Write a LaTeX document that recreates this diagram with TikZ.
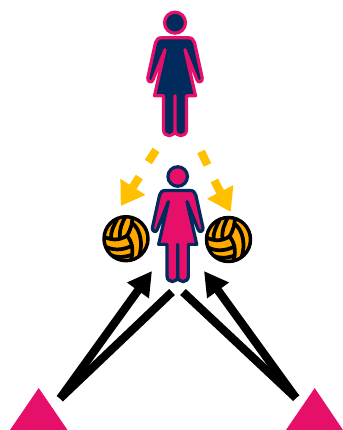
\documentclass[tikz,border=0pt]{standalone}
\usepackage{xcolor}
\usepackage{tikz}
\usetikzlibrary{calc,positioning,arrows.meta}
\definecolor{netpink}{HTML}{E6106B}
\definecolor{netnavy}{HTML}{002B5C}
\definecolor{netyellow}{HTML}{FFC000}
\definecolor{netorange}{HTML}{FFA800}
\tikzset{
  passline/.style={draw=black, line width=6.2pt},
  passarrow/.style={passline, -{Triangle[length=18pt, width=19pt]}},
  movedash/.style={draw=netyellow, line width=6.2pt},
  movearrow/.style={movedash, -{Triangle[length=17pt, width=21pt]}},
  cone/.style={fill=netpink},
  ballseam/.style={draw=black, line width=2.8pt, line cap=round},
  person/.pic={
    \filldraw (0,0) circle (10.5);
    \filldraw[line join=round] (-13,15) -- (13,15)
      .. controls (17,15) and (18.5,17) .. (19.5,20) -- (27.2,55)
      .. controls (28,59) and (23,61) .. (22,57)
      -- (10,27) -- (20.5,73) -- (11.5,73) -- (11.5,107)
      .. controls (11.5,115) and (0,115) .. (0,107) -- (0,73)
      -- (0,107) .. controls (0,115) and (-11.5,115) .. (-11.5,107)
      -- (-11.5,73) -- (-20.5,73) -- (-10,27) -- (-22,57)
      .. controls (-23,61) and (-28,59) .. (-27.2,55) -- (-19.5,20)
      .. controls (-18.5,17) and (-17,15) .. (-13,15) -- cycle;
  },
  vball/.pic={
    \fill[netorange] (0,0) circle (22);
    \begin{scope}
      \clip (0,0) circle (22);
      % the three main seams
      \draw[ballseam] (1,-3) .. controls (5,-10) and (7,-16) .. (6,-24);
      \draw[ballseam] (1,-3) .. controls (7,4) and (8,14) .. (4,24);
      \draw[ballseam] (1,-3) .. controls (-7,2) and (-15,2) .. (-24,-3);
      % upper left panel
      \draw[ballseam] (-6,-1) .. controls (-7,-9) and (-4,-16) .. (0,-23);
      \draw[ballseam] (-15,-1) .. controls (-15,-7) and (-13,-12) .. (-9,-19);
      % lower left panel
      \draw[ballseam] (-22,7) .. controls (-14,12) and (-4,12) .. (6,7);
      \draw[ballseam] (-16,16) .. controls (-10,19) and (-2,19) .. (6,16);
      % right panel
      \draw[ballseam] (7,-15) .. controls (15,-8) and (17,6) .. (13,18);
    \end{scope}
    \draw[black, line width=2.6pt] (0,0) circle (22);
  }
}
\begin{document}
\begin{tikzpicture}[x=0.75pt, y=-0.75pt]
  \useasboundingbox (0,0) rectangle (343,430);
  % cones
  \fill[cone] (38.7,388) -- (67.5,430) -- (10,430) -- cycle;
  \fill[cone] (314.7,388) -- (343,430) -- (286,430) -- cycle;
  % people
  \pic[draw=netpink, fill=netnavy, line width=2.4pt] at (175,22.7) {person};
  \pic[draw=netnavy, fill=netpink, line width=2.4pt, scale=0.93] at (177.7,176.5) {person};
  % balls
  \pic at (126,238.7) {vball};
  \pic at (228.5,239.5) {vball};
  % passes
  \coordinate (coneL) at (60,398.5);
  \coordinate (coneR) at (296,398);
  \coordinate (tipL) at (152,271);
  \coordinate (tipR) at (204,271);
  \coordinate (backL) at (172,292);
  \coordinate (backR) at (183,292);
  \draw[passarrow] (coneL) -- (tipL);
  \draw[passline] (coneL) -- (backL);
  \draw[passarrow] (coneR) -- (tipR);
  \draw[passline] (coneR) -- (backR);
  % movement of the player
  \coordinate (dashLa) at (156,150);
  \coordinate (dashLb) at (148.3,162);
  \coordinate (moveLa) at (139.3,177);
  \coordinate (moveLb) at (120.7,206);
  \coordinate (dashRa) at (201,151.5);
  \coordinate (dashRb) at (207.5,165);
  \coordinate (moveRa) at (214.3,180.5);
  \coordinate (moveRb) at (230.7,212);
  \draw[movedash] (dashLa) -- (dashLb);
  \draw[movearrow] (moveLa) -- (moveLb);
  \draw[movedash] (dashRa) -- (dashRb);
  \draw[movearrow] (moveRa) -- (moveRb);
\end{tikzpicture}
\end{document}
